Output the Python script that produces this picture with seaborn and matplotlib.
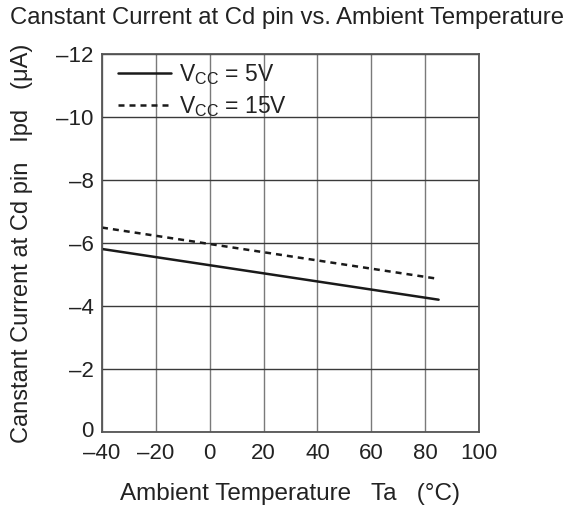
import matplotlib
matplotlib.use("Agg")
import matplotlib.pyplot as plt
import matplotlib.transforms as mtransforms
import seaborn as sns
import pandas as pd

temps_5v = [-40, 85]
ipd_5v = [-5.81, -4.20]
temps_15v = [-40, 85]
ipd_15v = [-6.49, -4.86]
series_labels = ["V$_{\\mathrm{CC}}$ = 5V", "V$_{\\mathrm{CC}}$ = 15V"]
xticks = [-40, -20, 0, 20, 40, 60, 80, 100]
yticks = [0, -2, -4, -6, -8, -10, -12]

df = pd.concat([
    pd.DataFrame({"T": temps_5v, "I": ipd_5v, "s": series_labels[0]}),
    pd.DataFrame({"T": temps_15v, "I": ipd_15v, "s": series_labels[1]}),
])

sns.set_theme(style="white")
plt.rcParams["font.family"] = ["Liberation Sans", "DejaVu Sans"]
plt.rcParams["mathtext.fontset"] = "custom"
plt.rcParams["mathtext.rm"] = "Liberation Sans"
plt.rcParams["mathtext.it"] = "Liberation Sans:italic"

W, H = 573, 511
fig = plt.figure(figsize=(W / 100, H / 100), dpi=100)
L, R, T, B = 102, 479, 54, 432
ax = fig.add_axes([L / W, (H - B) / H, (R - L) / W, (B - T) / H])

sns.lineplot(data=df, x="T", y="I", style="s", hue="s",
             palette=["#1a1a1a", "#1a1a1a"],
             dashes={series_labels[0]: "", series_labels[1]: (2.4, 2.0)},
             linewidth=1.8, ax=ax)

ax.set_xlim(-40, 100)
ax.set_ylim(0, -12)
ax.set_xticks(xticks)
ax.set_yticks(yticks)
ax.set_xticklabels([f"{v}".replace("-", "\u2013") for v in xticks])
ax.set_yticklabels([f"{v}".replace("-", "\u2013") for v in yticks])
ax.tick_params(length=0, labelsize=16, colors="#222222")
ax.tick_params(axis="x", pad=8)
ax.tick_params(axis="y", pad=6)
ax.xaxis.grid(True, color="#7a7a7a", linewidth=1.0)
ax.yaxis.grid(True, color="#3a3a3a", linewidth=1.0)
for sp in ax.spines.values():
    sp.set_color("#555555")
    sp.set_linewidth(1.3)

# nudge the y "0" label up a little so it does not touch the x labels
zero_lbl = ax.get_yticklabels()[0]
zero_lbl.set_transform(zero_lbl.get_transform() +
                       mtransforms.ScaledTranslation(0, 3 / 100, fig.dpi_scale_trans))

ax.set_xlabel("Ambient Temperature   Ta   (°C)", fontsize=17.5, color="#222222")
ax.xaxis.set_label_coords(0.5, (B - 494) / (B - T), transform=ax.transAxes)
ax.xaxis.label.set_va("center")
ax.set_ylabel("Canstant Current at Cd pin   Ipd   (μA)", fontsize=17, color="#222222")
ax.yaxis.set_label_coords((22 - L) / (R - L), 0.5, transform=ax.transAxes)
ax.yaxis.label.set_va("center")

leg = ax.legend(loc="upper left", frameon=False, fontsize=16.5, handlelength=2.3,
                borderaxespad=0.0, borderpad=0.0, labelspacing=0.3, handletextpad=0.35,
                bbox_to_anchor=((118 - L) / (R - L), (B - 62) / (B - T)))
for t in leg.get_texts():
    t.set_color("#222222")

fig.text(10 / W, 1 - 18 / H, "Canstant Current at Cd pin vs. Ambient Temperature",
         fontsize=17.2, color="#222222", ha="left", va="center")

fig.savefig("out.png", dpi=100)
